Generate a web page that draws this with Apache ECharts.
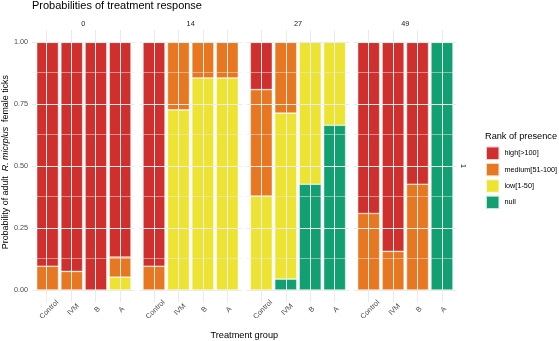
<!DOCTYPE html>
<html>
<head>
<meta charset="utf-8">
<script src="https://cdn.jsdelivr.net/npm/echarts@6/dist/echarts.min.js"></script>
<style>
html,body{margin:0;padding:0;background:#fff;}
#chart{width:559px;height:341px;}
</style>
</head>
<body>
<div id="chart"></div>
<script>
// ---- data ----
const categories = ['Control', 'IVM', 'B', 'A'];
const days = ['0', '14', '27', '49'];
const levels = ['high[>100]', 'medium[51-100]', 'low[1-50]', 'null'];
// per day panel, values for Control, IVM, B, A
const high   = [[0.904, 0.925, 1.000, 0.867], [0.904, 0, 0, 0], [0.191, 0, 0, 0], [0.691, 0.844, 0.573, 0]];
const medium = [[0.096, 0.075, 0, 0.081], [0.096, 0.273, 0.144, 0.144], [0.430, 0.286, 0, 0], [0.309, 0.156, 0.427, 0]];
const low    = [[0, 0, 0, 0.052], [0, 0.727, 0.856, 0.856], [0.379, 0.670, 0.573, 0.335], [0, 0, 0, 0]];
const nul    = [[0, 0, 0, 0], [0, 0, 0, 0], [0, 0.044, 0.427, 0.665], [0, 0, 0, 1.000]];
const yTicks = [0, 0.25, 0.5, 0.75, 1];
const yMinor = [0.125, 0.375, 0.625, 0.875];
const xGridPos = [1, 2, 3, 4];

// ---- styles / layout ----
const colors = {'high[>100]': '#D0302D', 'medium[51-100]': '#E87722', 'low[1-50]': '#EDE332', 'null': '#12A072'};
const FONT = 'Liberation Sans, Arial, sans-serif';
const catW = 24.44;
const panelW = 4.2 * catW;
const panelStep = 107.33;
const panel0Left = 32.0;
const yTop = 42.3, yBottom = 290;
const yH = yBottom - yTop;

const grids = [], xAxes = [], yAxes = [], series = [];
const stackOrder = [['null', nul], ['low[1-50]', low], ['medium[51-100]', medium], ['high[>100]', high]];

days.forEach((d, k) => {
  const pLeft = panel0Left + k * panelStep;
  // background grid (panel incl. expansion)
  grids.push({left: pLeft, width: panelW, top: yTop - 0.05 * yH, height: 1.1 * yH, containLabel: false});
  // bar grid
  grids.push({left: pLeft + 0.1 * catW, width: 4 * catW, top: yTop, height: yH, containLabel: false});
  const gB = 2 * k, gA = 2 * k + 1;
  xAxes.push({
    gridIndex: gB, type: 'value', min: 0.4, max: 4.6, position: 'top',
    axisLine: {show: false}, axisTick: {show: false}, axisLabel: {show: false}, splitLine: {show: false},
    name: d, nameLocation: 'middle', nameGap: 2,
    nameTextStyle: {fontFamily: FONT, fontSize: 7.3, color: '#1A1A1A'}
  });
  xAxes.push({
    gridIndex: gA, type: 'category', data: categories,
    axisLine: {show: false}, axisTick: {show: false}, splitLine: {show: false},
    axisLabel: {interval: 0, rotate: 45, align: 'center', verticalAlign: 'middle', margin: 21,
      padding: [4.2, 0, 0, 4.2], fontFamily: FONT, fontSize: 7.3, color: '#4D4D4D'}
  });
  yAxes.push({
    gridIndex: gB, type: 'value', min: -0.05, max: 1.05, position: 'right',
    axisLine: {show: false}, axisTick: {show: false}, axisLabel: {show: false}, splitLine: {show: false},
    name: k === days.length - 1 ? '1' : '', nameLocation: 'middle', nameRotate: -90, nameGap: 3,
    nameTextStyle: {fontFamily: FONT, fontSize: 7.3, color: '#1A1A1A'}
  });
  yAxes.push({
    gridIndex: gA, type: 'value', min: 0, max: 1, interval: 0.25,
    axisLine: {show: false}, axisTick: {show: false}, splitLine: {show: false},
    axisLabel: {show: k === 0, margin: 7.4, fontFamily: FONT, fontSize: 7.3, color: '#4D4D4D',
      formatter: v => v.toFixed(2)},
    name: k === 0 ? '{n|Probability of adult  }{i|R. micrplus}{n|  female ticks}' : '',
    nameLocation: 'middle', nameRotate: 90, nameGap: 23,
    nameTextStyle: {padding: [0, 0, 0, 8], rich: {
      n: {fontFamily: FONT, fontSize: 8.9, color: '#000'},
      i: {fontFamily: FONT, fontSize: 8.9, color: '#000', fontStyle: 'italic'}
    }}
  });
  // gridlines
  const ml = [];
  xGridPos.forEach(x => ml.push({xAxis: x, lineStyle: {width: 1}}));
  yTicks.forEach(y => ml.push({yAxis: y, lineStyle: {width: 1}}));
  yMinor.forEach(y => ml.push({yAxis: y, lineStyle: {width: 0.5}}));
  series.push({
    type: 'line', xAxisIndex: gB, yAxisIndex: gB, data: [], silent: true, z: 0,
    markLine: {silent: true, symbol: ['none', 'none'], animation: false, label: {show: false},
      lineStyle: {color: '#EBEBEB', type: 'solid'}, emphasis: {disabled: true}, data: ml}
  });
  stackOrder.forEach(([name, arr]) => {
    series.push({
      type: 'bar', name: name, stack: 'p' + k, xAxisIndex: gA, yAxisIndex: gA,
      barWidth: '90%', z: 2,
      data: arr[k].map(v => v === 0 ? '-' : v),
      itemStyle: {color: colors[name], borderColor: 'rgba(255,255,255,0.75)', borderWidth: 0.6},
      emphasis: {disabled: true}
    });
  });
});

const chart = echarts.init(document.getElementById('chart'), null, {renderer: 'canvas'});
chart.setOption({
  animation: false,
  backgroundColor: '#fff',
  textStyle: {fontFamily: FONT},
  title: [
    {text: 'Probabilities of treatment response', left: 32, top: 0, padding: 0,
      textStyle: {fontFamily: FONT, fontSize: 11, fontWeight: 'normal', color: '#000'}},
    {text: 'Rank of presence', left: 485, top: 131.5, padding: 0,
      textStyle: {fontFamily: FONT, fontSize: 9.2, fontWeight: 'normal', color: '#000'}},
    {text: 'Treatment group', left: panel0Left + (3 * panelStep + panelW) / 2, textAlign: 'center', top: 330.5, padding: 0,
      textStyle: {fontFamily: FONT, fontSize: 9.2, fontWeight: 'normal', color: '#000'}}
  ],
  legend: {
    data: levels, orient: 'vertical', left: 485, top: 145.5, padding: 0,
    itemWidth: 13.4, itemHeight: 13.4, itemGap: 1, icon: 'rect', selectedMode: false,
    textStyle: {fontFamily: FONT, fontSize: 7.3, color: '#000'}
  },
  grid: grids,
  xAxis: xAxes,
  yAxis: yAxes,
  series: series
});
</script>
</body>
</html>
